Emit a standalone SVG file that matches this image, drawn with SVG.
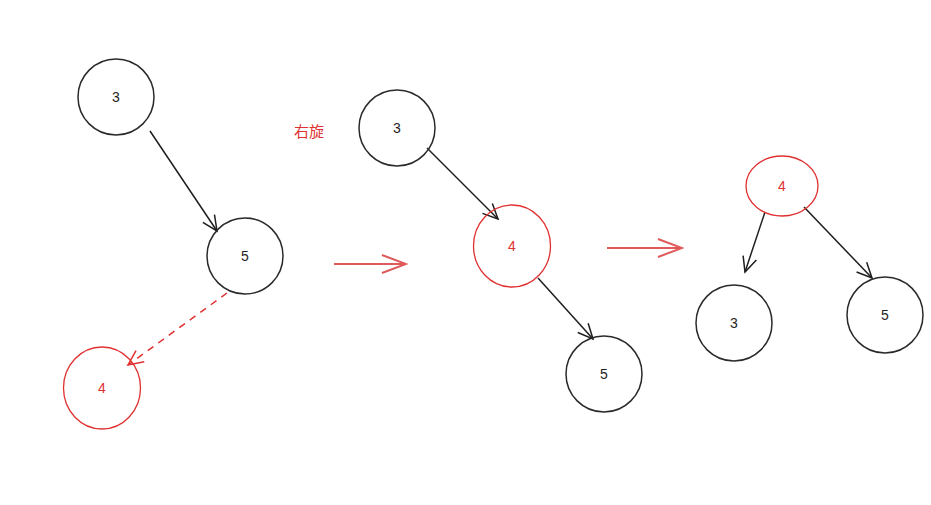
<svg xmlns="http://www.w3.org/2000/svg" width="931" height="505" viewBox="0 0 931 505">
<style>
.bk{fill:none;stroke:#2a2a2a;stroke-width:1.5}
.rd{fill:none;stroke:#e03131;stroke-width:1.3}
.big{fill:none;stroke:#e05a5a;stroke-width:2.2}
.tb{font-family:"Liberation Sans",sans-serif;font-size:14px;fill:#1e1e1e;text-anchor:middle;dominant-baseline:central}
.tr{font-family:"Liberation Sans",sans-serif;font-size:14px;fill:#e03131;text-anchor:middle;dominant-baseline:central}
.lab{font-family:"Noto Sans CJK SC",sans-serif;font-size:15px;fill:#e03131;text-anchor:middle;dominant-baseline:central}
.eb{fill:none;stroke:#1e1e1e;stroke-width:1.5}
.er{fill:none;stroke:#e03131;stroke-width:1.5;stroke-dasharray:7 6}
</style>
<defs>
<marker id="ab" markerUnits="userSpaceOnUse" viewBox="-17 -9 19 18" markerWidth="19" markerHeight="18" refX="0" refY="0" orient="auto">
<path d="M-15,-7 L0,0 L-15,7" fill="none" stroke="#1e1e1e" stroke-width="1.5"/>
</marker>
<marker id="ar" markerUnits="userSpaceOnUse" viewBox="-17 -9 19 18" markerWidth="19" markerHeight="18" refX="0" refY="0" orient="auto">
<path d="M-15,-7 L0,0 L-15,7" fill="none" stroke="#e03131" stroke-width="1.5"/>
</marker>
<marker id="ar2" markerUnits="userSpaceOnUse" viewBox="-26 -11 28 22" markerWidth="28" markerHeight="22" refX="0" refY="0" orient="auto">
<path d="M-24,-9 L0,0 L-24,9" fill="none" stroke="#e05a5a" stroke-width="2"/>
</marker>
</defs>
<g id="connectors">
<line class="eb" x1="150" y1="131" x2="217" y2="231" marker-end="url(#ab)"/>
<line class="er" x1="227" y1="293" x2="128" y2="365" marker-end="url(#ar)"/>
<line class="eb" x1="427" y1="148" x2="498" y2="219" marker-end="url(#ab)"/>
<line class="eb" x1="538" y1="278" x2="593" y2="339" marker-end="url(#ab)"/>
<line class="eb" x1="765" y1="212" x2="745" y2="272" marker-end="url(#ab)"/>
<line class="eb" x1="804" y1="207" x2="872" y2="278" marker-end="url(#ab)"/>
<line class="big" x1="334" y1="264" x2="406" y2="264" marker-end="url(#ar2)"/>
<line class="big" x1="607" y1="248" x2="682" y2="248" marker-end="url(#ar2)"/>
</g>
<g id="label-rotate"><text class="lab" x="309" y="130">右旋</text></g>
<g id="a3"><ellipse class="bk" cx="116" cy="97" rx="38" ry="38"/><text class="tb" x="116" y="97">3</text></g>
<g id="a5"><ellipse class="bk" cx="245" cy="256" rx="38" ry="38"/><text class="tb" x="245" y="256">5</text></g>
<g id="a4"><ellipse class="rd" cx="102" cy="388" rx="38.5" ry="41"/><text class="tr" x="102" y="388">4</text></g>
<g id="b3"><ellipse class="bk" cx="397" cy="128" rx="38" ry="38"/><text class="tb" x="397" y="128">3</text></g>
<g id="b4"><ellipse class="rd" cx="512" cy="246" rx="38.5" ry="41"/><text class="tr" x="512" y="246">4</text></g>
<g id="b5"><ellipse class="bk" cx="604" cy="374" rx="38" ry="38"/><text class="tb" x="604" y="374">5</text></g>
<g id="c4"><ellipse class="rd" cx="782" cy="186" rx="36" ry="30"/><text class="tr" x="782" y="186">4</text></g>
<g id="c3"><ellipse class="bk" cx="734" cy="323" rx="38" ry="38"/><text class="tb" x="734" y="323">3</text></g>
<g id="c5"><ellipse class="bk" cx="885" cy="315" rx="38" ry="38"/><text class="tb" x="885" y="315">5</text></g>
</svg>
